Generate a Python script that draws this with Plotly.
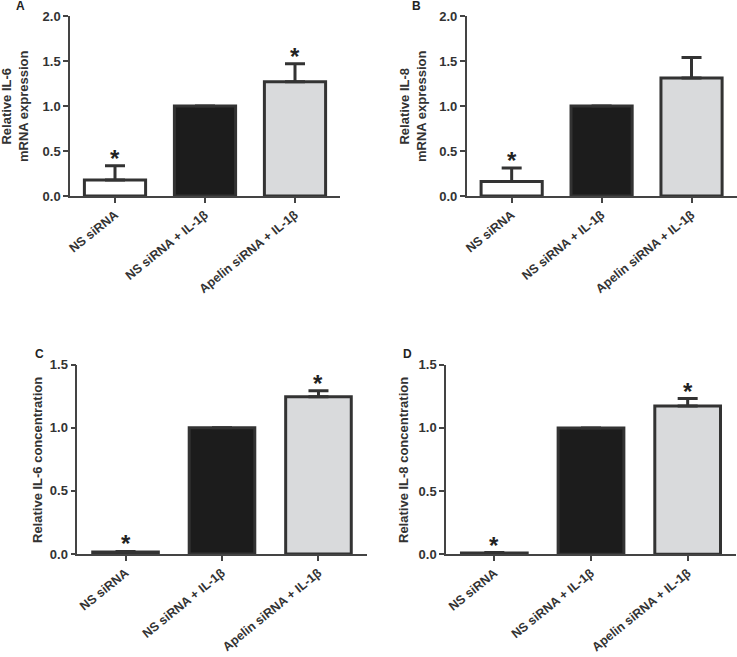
import plotly.graph_objects as go

categories = ["NS siRNA", "NS siRNA + IL-1β", "Apelin siRNA + IL-1β"]

il6_mrna = [0.178, 1.0, 1.27]
il6_mrna_err = [0.158, 0.0, 0.20]
il8_mrna = [0.16, 1.0, 1.31]
il8_mrna_err = [0.15, 0.0, 0.23]
il6_conc = [0.015, 1.0, 1.246]
il6_conc_err = [0.005, 0.0, 0.048]
il8_conc = [0.01, 1.0, 1.174]
il8_conc_err = [0.004, 0.0, 0.058]

stars_a = [True, False, True]
stars_b = [True, False, False]
stars_c = [True, False, True]
stars_d = [True, False, True]

panel_letters = ["A", "B", "C", "D"]
y_titles = ["Relative IL-6<br>mRNA expression", "Relative IL-8<br>mRNA expression",
            "Relative IL-6 concentration", "Relative IL-8 concentration"]

fill_colors = ["#ffffff", "#1c1c1c", "#d9dadc"]
line_col = "#333333"
FONT = "Liberation Sans, Arial, Helvetica, sans-serif"

W, H = 737, 657

def px_x(p):
    return p / W

def px_y(p):
    return 1 - p / H

panels = [
    dict(vals=il6_mrna, err=il6_mrna_err, stars=stars_a, xd=[px_x(70), px_x(340)], yd=[px_y(196), px_y(16)],
         yr=[0, 2.0], dtick=0.5, letter=(20, 6), title=(15, 106)),
    dict(vals=il8_mrna, err=il8_mrna_err, stars=stars_b, xd=[px_x(466.7), px_x(736.5)], yd=[px_y(196), px_y(16)],
         yr=[0, 2.0], dtick=0.5, letter=(416, 6), title=(413, 106)),
    dict(vals=il6_conc, err=il6_conc_err, stars=stars_c, xd=[px_x(77.3), px_x(366.7)], yd=[px_y(554), px_y(364.7)],
         yr=[0, 1.5], dtick=0.5, letter=(39, 354), title=(37, 460)),
    dict(vals=il8_conc, err=il8_conc_err, stars=stars_d, xd=[px_x(446), px_x(736)], yd=[px_y(554.3), px_y(364.7)],
         yr=[0, 1.5], dtick=0.5, letter=(407, 354), title=(403, 460)),
]

fig = go.Figure()
annotations = []
layout_axes = {}

for i, p in enumerate(panels):
    n = "" if i == 0 else str(i + 1)
    xa, ya = "x" + n, "y" + n
    fig.add_trace(go.Bar(
        x=categories, y=p["vals"], xaxis=xa, yaxis=ya, width=0.68,
        marker=dict(color=fill_colors, line=dict(color=line_col, width=3)),
        error_y=dict(type="data", array=p["err"], arrayminus=[0, 0, 0], symmetric=False,
                     color=line_col, thickness=3, width=10),
        showlegend=False, hoverinfo="skip",
    ))
    axis_common = dict(showline=True, linecolor="#444444", linewidth=1.5, ticks="outside",
                       tickcolor="#444444", tickwidth=1.5, ticklen=5, showgrid=False, zeroline=False,
                       automargin=False,
                       tickfont=dict(family=FONT, size=13, color="#333333", weight="bold"))
    layout_axes["xaxis" + n] = dict(axis_common, domain=p["xd"], anchor=ya, range=[-0.5, 2.5],
                                     tickangle=-39, type="category", ticklen=5,
                                     tickfont=dict(family=FONT, size=12.5, color="#333333", weight="bold"))
    layout_axes["yaxis" + n] = dict(axis_common, domain=p["yd"], anchor=xa, range=p["yr"],
                                     tickmode="linear", tick0=0, dtick=p["dtick"], tickformat=".1f")
    for j, s in enumerate(p["stars"]):
        if s:
            annotations.append(dict(x=categories[j], y=p["vals"][j] + p["err"][j], xref=xa, yref=ya,
                                    text="*", showarrow=False, yanchor="bottom", yshift=-8,
                                    font=dict(family=FONT, size=24, color="#222222", weight="bold")))
    lx, ly = p["letter"]
    annotations.append(dict(x=px_x(lx), y=px_y(ly), xref="paper", yref="paper", text=panel_letters[i],
                            showarrow=False, xanchor="center", yanchor="middle",
                            font=dict(family=FONT, size=12, color="#222222", weight="bold")))
    tx, ty = p["title"]
    annotations.append(dict(x=px_x(tx), y=px_y(ty), xref="paper", yref="paper", text=y_titles[i],
                            showarrow=False, xanchor="center", yanchor="middle", textangle=-90,
                            font=dict(family=FONT, size=13, color="#333333", weight="bold")))

fig.update_layout(
    width=W, height=H, margin=dict(l=0, r=0, t=0, b=0, autoexpand=False),
    paper_bgcolor="white", plot_bgcolor="white",
    annotations=annotations, bargap=0.3,
    **layout_axes,
)

fig.write_html("out.html", config={"displayModeBar": False},
               post_script="document.body.style.margin='0';document.body.style.overflow='hidden';")
